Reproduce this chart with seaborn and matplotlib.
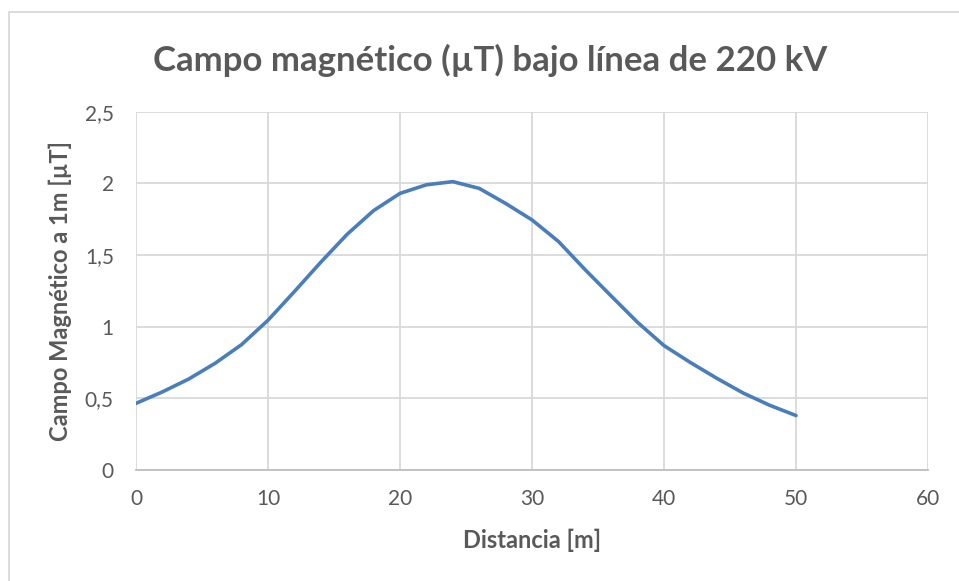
import matplotlib
matplotlib.use("Agg")
import matplotlib.pyplot as plt
import seaborn as sns
import pandas as pd
from matplotlib.patches import Rectangle

distancia = [0, 2, 4, 6, 8, 10, 12, 14, 16, 18, 20, 22, 24, 26, 28, 30,
             32, 34, 36, 38, 40, 42, 44, 46, 48, 50]
campo = [0.465, 0.545, 0.635, 0.745, 0.875, 1.045, 1.245, 1.45, 1.645, 1.81,
         1.93, 1.99, 2.012, 1.965, 1.86, 1.745, 1.595, 1.40, 1.214, 1.03,
         0.868, 0.75, 0.64, 0.537, 0.452, 0.38]
x_ticks = [0, 10, 20, 30, 40, 50, 60]
y_ticks = [0, 0.5, 1, 1.5, 2, 2.5]
y_labels = ["0", "0,5", "1", "1,5", "2", "2,5"]

title = "Campo magnético (µT) bajo línea de 220 kV"
xlabel = "Distancia [m]"
ylabel = "Campo Magnético a 1m [µT]"

sns.set_theme(style="white")
plt.rcParams["font.family"] = ["Lato", "DejaVu Sans"]

df = pd.DataFrame({"x": distancia, "y": campo})

fig = plt.figure(figsize=(9.59, 5.81), dpi=100)
ax = fig.add_axes([136 / 959, 1 - 470 / 581, (928 - 136) / 959, (470 - 111.7) / 581])

sns.lineplot(data=df, x="x", y="y", ax=ax, color="#4a7ebb", linewidth=2.6,
             solid_capstyle="round", solid_joinstyle="round")

ax.set_xlim(0, 60)
ax.set_ylim(0, 2.5)
ax.set_xticks(x_ticks)
ax.set_yticks(y_ticks)
ax.set_yticklabels(y_labels)
ax.grid(True, color="#d9d9d9", linewidth=1.3)
ax.set_axisbelow(True)
for s in ["top", "right"]:
    ax.spines[s].set_visible(False)
ax.spines["left"].set_visible(False)
ax.spines["bottom"].set_color("#bfbfbf")
ax.spines["bottom"].set_linewidth(1.3)
ax.tick_params(axis="both", length=0, labelsize=15, labelcolor="#595959")
ax.tick_params(axis="x", pad=14)
ax.tick_params(axis="y", pad=16)

ax.set_xlabel(xlabel, fontsize=17, fontweight="bold", color="#595959", labelpad=14)
ax.set_ylabel(ylabel, fontsize=17, fontweight="bold", color="#595959", labelpad=9)

fig.text(490 / 959, 1 - 60 / 581, title, ha="center", va="center",
         fontsize=25, fontweight="bold", color="#595959")

fig.patches.append(Rectangle((8.5 / 959, -0.05), 1.1, 1 - 12.5 / 581 + 0.05,
                             transform=fig.transFigure, fill=False,
                             edgecolor="#d9d9d9", linewidth=1.3, zorder=0))

fig.savefig("out.png", dpi=100)
